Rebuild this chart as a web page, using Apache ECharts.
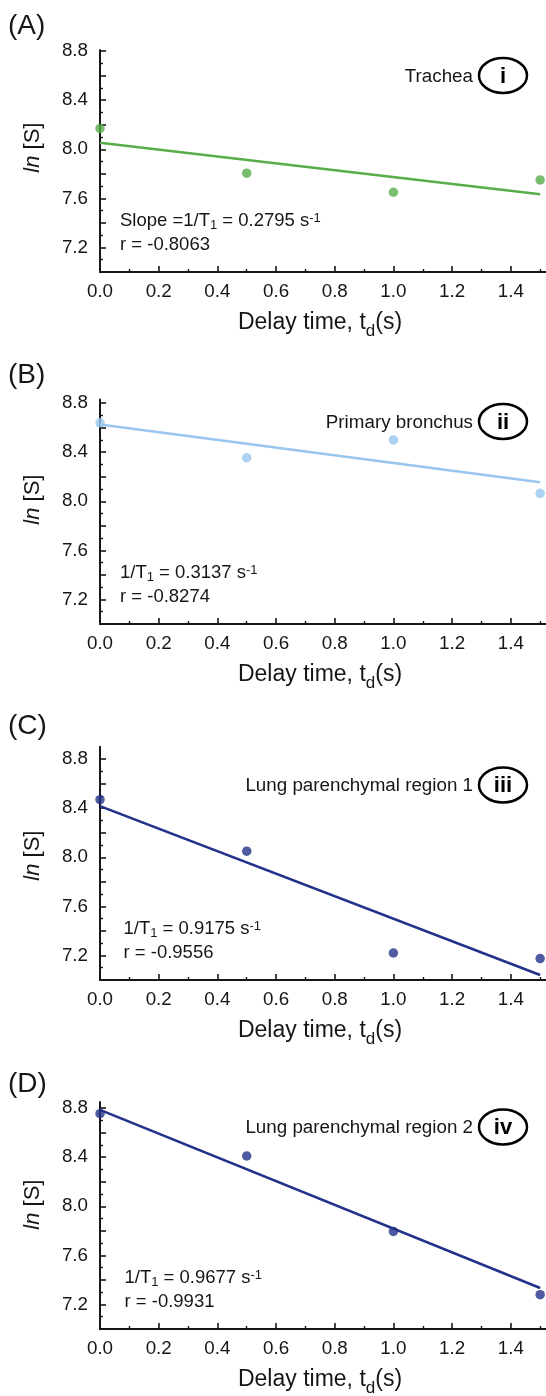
<!DOCTYPE html>
<html><head><meta charset="utf-8">
<script src="https://cdn.jsdelivr.net/npm/echarts@6/dist/echarts.min.js"></script>
<style>html,body{margin:0;padding:0;background:#fff}#c{width:546px;height:1396px}</style>
</head><body><div id="c"></div>
<script>
// ---- data ----
const delayTimes = [0, 0.5, 1.0, 1.5];
const tracheaLnS = [8.17, 7.805, 7.65, 7.75];
const bronchusLnS = [8.64, 8.355, 8.50, 8.065];
const region1LnS = [8.47, 8.05, 7.22, 7.175];
const region2LnS = [8.755, 8.41, 7.795, 7.28];
const invT1 = [0.2795, 0.3137, 0.9175, 0.9677];
const invT1Text = ['0.2795', '0.3137', '0.9175', '0.9677'];
const rText = ['-0.8063', '-0.8274', '-0.9556', '-0.9931'];
const ratePrefix = ['Slope =1/T', '1/T', '1/T', '1/T'];
const panelLetters = ['(A)', '(B)', '(C)', '(D)'];
const regionNames = ['Trachea', 'Primary bronchus', 'Lung parenchymal region 1', 'Lung parenchymal region 2'];
const regionNumerals = ['i', 'ii', 'iii', 'iv'];
const seriesColors = ['#58AC4A', '#99C6EE', '#24318A', '#24318A'];
const xTickLabels = [0, 0.2, 0.4, 0.6, 0.8, 1.0, 1.2, 1.4];
const xMinorTicks = [0.1, 0.3, 0.5, 0.7, 0.9, 1.1, 1.3, 1.5];
const yTickLabels = [7.2, 7.6, 8.0, 8.4, 8.8];
const yMajorTicks = [7.2, 7.4, 7.6, 7.8, 8.0, 8.2, 8.4, 8.6, 8.8];
const yMinorTicks = [7.1, 7.3, 7.5, 7.7, 7.9, 8.1, 8.3, 8.5, 8.7];
const allSeries = [tracheaLnS, bronchusLnS, region1LnS, region2LnS];

// ---- layout ----
const FONT = '"Liberation Sans", Arial, Helvetica, sans-serif';
const PX = 122.7;             // pixels per ln unit
const X0 = 100, XW = 446, XMAX = 1.52, YMIN = 7.0;
const bottoms = [272, 624, 980, 1329];
const yMaxes = [8.81, 8.83, 8.9, 8.85];
const letterY = [27, 376, 727.5, 1085];
const regionY = [75.5, 421.5, 785, 1127];
const statX = [120, 120, 123.5, 124.5];
const INK = '#161616';

function mean(a) { return a.reduce((s, v) => s + v, 0) / a.length; }
function fitLine(vals, rate) {
  const b = mean(vals) + rate * mean(delayTimes);
  const xs = [delayTimes[0], delayTimes[delayTimes.length - 1]];
  return xs.map(x => [x, b - rate * x]);
}

const grid = [], xAxis = [], yAxis = [], series = [], graphic = [];
allSeries.forEach((vals, i) => {
  const h = (yMaxes[i] - YMIN) * PX;
  grid.push({ left: X0, width: XW, top: bottoms[i] - h, height: h });
  xAxis.push({
    gridIndex: i, type: 'value', min: 0, max: XMAX, interval: 0.2, position: 'bottom',
    axisLine: { onZero: false, lineStyle: { color: INK, width: 2 } },
    axisTick: { inside: true, length: 6, customValues: xTickLabels, lineStyle: { color: INK, width: 1.6 } },
    axisLabel: { customValues: xTickLabels, formatter: v => v.toFixed(1), fontSize: 18.8, fontFamily: FONT, color: INK, margin: 10 },
    splitLine: { show: false }
  });
  xAxis.push({
    gridIndex: i, type: 'value', min: 0, max: XMAX, interval: 0.1, position: 'bottom',
    axisLine: { show: false, onZero: false },
    axisTick: { inside: true, length: 3, customValues: xMinorTicks, lineStyle: { color: INK, width: 1.4 } },
    axisLabel: { show: false }, splitLine: { show: false }
  });
  yAxis.push({
    gridIndex: i, type: 'value', min: YMIN, max: yMaxes[i], interval: 0.2, position: 'left',
    axisLine: { onZero: false, lineStyle: { color: INK, width: 2 } },
    axisTick: { inside: true, length: 6, customValues: yMajorTicks, lineStyle: { color: INK, width: 1.6 } },
    axisLabel: { customValues: yTickLabels, formatter: v => v.toFixed(1), fontSize: 18.8, fontFamily: FONT, color: INK, margin: 12 },
    splitLine: { show: false }
  });
  yAxis.push({
    gridIndex: i, type: 'value', min: YMIN, max: yMaxes[i], interval: 0.1, position: 'left',
    axisLine: { show: false, onZero: false },
    axisTick: { inside: true, length: 3, customValues: yMinorTicks, lineStyle: { color: INK, width: 1.4 } },
    axisLabel: { show: false }, splitLine: { show: false }
  });
  series.push({
    type: 'line', xAxisIndex: 2 * i, yAxisIndex: 2 * i, data: fitLine(vals, invT1[i]),
    showSymbol: false, symbol: 'none', lineStyle: { color: seriesColors[i], width: 2.6 }, z: 3, silent: true
  });
  series.push({
    type: 'scatter', xAxisIndex: 2 * i, yAxisIndex: 2 * i, data: delayTimes.map((x, k) => [x, vals[k]]),
    symbolSize: 9.5, itemStyle: { color: seriesColors[i] }, clip: false, z: 4, silent: true
  });

  // panel letter
  graphic.push({ type: 'text', left: 8, top: letterY[i] - 15,
    style: { text: panelLetters[i], font: '28px ' + FONT, fill: INK } });
  // region label + circled numeral
  graphic.push({ type: 'text', x: 473, y: regionY[i] + 1,
    style: { text: regionNames[i], x: 0, y: 0, font: '18.8px ' + FONT, fill: INK,
      align: 'right', textAlign: 'right', verticalAlign: 'middle', textVerticalAlign: 'middle' } });
  graphic.push({ type: 'ellipse', shape: { cx: 503, cy: regionY[i], rx: 24, ry: 17.5 },
    style: { fill: 'transparent', stroke: '#000', lineWidth: 2.5 } });
  graphic.push({ type: 'text', x: 503, y: regionY[i] + 1,
    style: { text: regionNumerals[i], x: 0, y: 0, font: 'bold 22px ' + FONT, fill: '#000',
      align: 'center', textAlign: 'center', verticalAlign: 'middle', textVerticalAlign: 'middle' } });
  // stats
  graphic.push({ type: 'text', x: statX[i], y: bottoms[i] - 51.5,
    style: { text: ratePrefix[i] + '{sub|1} = ' + invT1Text[i] + ' s{sup|-1}', x: 0, y: 0,
      font: '18.5px ' + FONT, fill: INK, align: 'left', textAlign: 'left', verticalAlign: 'middle', textVerticalAlign: 'middle',
      rich: { sub: { fontSize: 13, fontFamily: FONT, fill: INK, padding: [10, 0, 0, 0] },
              sup: { fontSize: 13, fontFamily: FONT, fill: INK, padding: [0, 0, 5, 0] } } } });
  graphic.push({ type: 'text', x: statX[i], y: bottoms[i] - 27.5,
    style: { text: 'r = ' + rText[i], x: 0, y: 0, font: '18.5px ' + FONT, fill: INK,
      align: 'left', textAlign: 'left', verticalAlign: 'middle', textVerticalAlign: 'middle' } });
  // y title
  graphic.push({ type: 'text', x: 33, y: bottoms[i] - 124.4, rotation: Math.PI / 2,
    style: { text: '{it|ln} [S]', x: 0, y: 0, font: '22px ' + FONT, fill: INK,
      align: 'center', textAlign: 'center', verticalAlign: 'middle', textVerticalAlign: 'middle',
      rich: { it: { fontSize: 22, fontFamily: FONT, fontStyle: 'italic', fill: INK } } } });
  // x title
  graphic.push({ type: 'text', x: 320, y: bottoms[i] + 51,
    style: { text: 'Delay time, t{sub|d}(s)', x: 0, y: 0, font: '23px ' + FONT, fill: INK,
      align: 'center', textAlign: 'center', verticalAlign: 'middle', textVerticalAlign: 'middle',
      rich: { sub: { fontSize: 17, fontFamily: FONT, fill: INK, padding: [16, 0, 0, 0] } } } });
});

const chart = echarts.init(document.getElementById('c'), null, { renderer: 'canvas' });
chart.setOption({ animation: false, backgroundColor: '#fff', grid, xAxis, yAxis, series, graphic });
</script></body></html>
